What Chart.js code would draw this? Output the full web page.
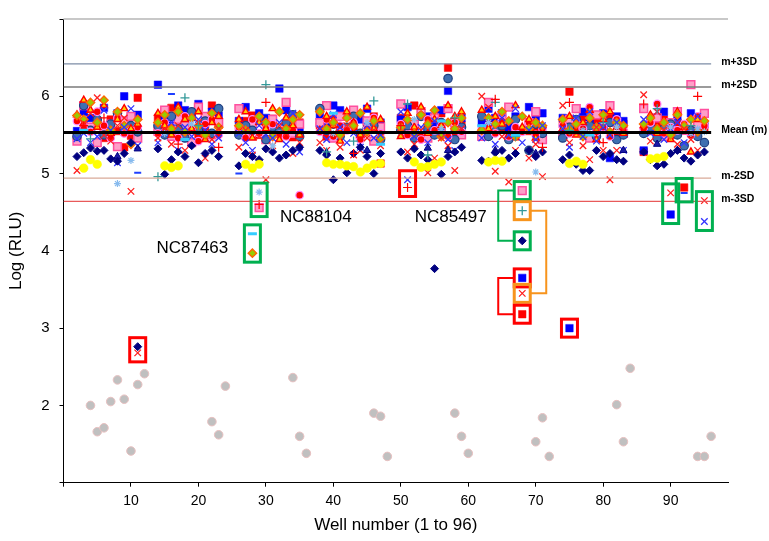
<!DOCTYPE html>
<html><head><meta charset="utf-8">
<script src="https://cdn.jsdelivr.net/npm/chart.js@4/dist/chart.umd.min.js"></script>
<style>html,body{margin:0;padding:0;background:#fff}#wrap{width:769px;height:541px}</style>
</head><body><div id="wrap"><canvas id="c" width="769" height="541"></canvas></div>
<script>
// ---------- DATA ----------
const wells = [2,3,4,5,6,7,8,9,10,11, 14,15,16,17,18,19,20,21,22,23, 26,27,28,29,30,31,32,33,34,35, 38,39,40,41,42,43,44,45,46,47,
               50,51,52,53,54,55,56,57,58,59, 62,63,64,65,66,67,68,69,70,71, 74,75,76,77,78,79,80,81,82,83, 86,87,88,89,90,91,92,93,94,95];
const _ = null;
const redSq = [5.48,5.62,5.57,5.66,5.46,5.70,5.55,5.34,5.49,5.98, 5.72,5.60,5.85,5.52,5.66,5.79,5.50,5.58,5.88,5.63,
  5.58,5.68,5.75,5.50,5.62,5.71,5.55,5.60,5.47,5.66, 5.62,5.48,5.70,5.55,5.77,5.60,5.52,5.66,5.74,5.13,
  5.72,5.55,5.88,5.49,5.60,5.66,5.78,6.37,5.52,5.63, 5.52,5.66,5.70,5.58,5.62,5.48,3.18,5.55,5.60,5.45,
  5.64,6.06,5.55,5.70,5.48,5.66,5.58,5.72,5.50,5.64, 5.28,5.55,5.62,5.70,5.50,5.66,4.82,5.58,5.62,5.60];
const blueSq = [5.55,5.80,5.72,5.68,5.85,5.60,5.78,6.00,5.74,5.76, 6.15,5.70,5.62,5.88,5.82,5.73,5.90,5.66,5.80,5.75,
  5.68,5.86,5.60,5.78,5.72,5.64,6.10,5.82,5.70,5.58, 5.74,5.66,5.88,5.82,5.58,5.76,5.70,5.84,5.62,5.66,
  5.70,5.86,5.62,5.78,5.74,5.66,5.82,6.07,5.60,5.72, 5.66,5.84,5.72,5.78,5.60,5.74,3.65,5.86,5.70,5.78,
  5.72,3.00,5.66,5.80,5.70,5.60,5.78,5.20,5.74,5.68, 5.30,5.66,5.72,5.80,4.47,5.74,5.62,5.78,5.70,5.64];
const pinkSq = [5.42,5.88,5.60,5.40,5.52,5.64,5.35,5.68,5.74,5.46, 5.55,5.82,5.48,5.70,5.62,5.40,5.86,5.74,5.50,5.66,
  5.84,5.50,5.62,4.56,5.44,5.70,5.58,5.92,5.52,5.64, 5.66,5.88,5.46,5.74,5.58,5.82,5.50,5.68,5.42,5.60,
  5.90,5.52,5.64,5.80,5.46,5.72,5.58,5.84,5.66,5.50, 5.48,5.92,5.60,5.72,5.86,5.54,4.78,5.66,5.80,5.44,
  5.50,5.70,5.84,5.62,5.46,5.76,5.58,5.88,5.66,5.52, 5.84,5.60,5.72,5.48,5.66,5.80,5.56,6.15,5.64,5.78];
const redX = [5.04,5.65,5.78,5.98,5.50,5.42,5.62,5.72,4.77,2.68, 5.46,5.58,5.38,5.62,5.30,5.54,5.66,5.20,5.44,5.58,
  5.34,5.56,5.24,5.48,4.92,5.36,5.62,5.52,5.26,5.40, 5.40,5.30,5.52,5.34,5.62,5.24,5.30,5.46,5.56,5.36,
  5.52,5.28,5.38,5.56,5.01,5.20,5.46,5.36,5.04,5.58, 6.00,5.86,5.03,5.48,4.89,5.30,3.45,5.20,5.38,4.96,
  5.88,5.40,5.52,5.36,5.18,5.60,5.30,4.92,5.30,5.56, 6.02,5.42,5.80,5.56,4.75,5.38,5.58,5.44,5.30,4.65];
const blueX = [5.45,5.52,5.40,5.48,5.82,5.56,5.14,5.60,5.84,5.36, 5.40,5.52,5.66,5.30,5.60,5.48,5.70,5.56,5.38,5.46,
  5.52,5.40,5.30,5.62,5.50,5.46,5.66,5.38,5.78,5.28, 5.58,5.44,5.76,5.60,5.40,5.52,5.34,5.62,5.46,5.50,
  5.80,4.92,5.48,5.60,5.40,5.68,5.54,5.44,5.30,5.58, 5.46,5.66,5.38,5.72,5.50,5.84,5.40,5.56,5.44,5.62,
  5.58,5.34,5.72,5.48,5.80,5.42,5.60,5.50,5.66,5.30, 5.70,5.52,5.80,5.44,5.58,5.66,5.40,5.52,5.74,4.38];
const navyDia = [5.22,5.27,5.33,5.29,5.30,5.19,5.16,5.26,5.40,2.76, 5.32,4.99,5.18,5.28,5.22,5.36,5.14,5.26,5.30,5.22,
  5.10,5.26,5.22,5.18,5.32,5.28,5.20,5.24,5.30,5.34, 5.30,5.24,4.92,5.20,5.01,5.26,5.34,5.22,5.00,5.26,
  5.28,5.20,5.32,5.24,5.18,3.77,4.99,5.22,5.28,5.34, 5.17,5.16,5.27,5.30,5.20,5.26,4.13,5.30,5.22,5.28,
  5.18,5.24,5.12,5.04,5.04,5.30,5.22,5.26,5.18,5.16, 5.28,5.18,5.10,5.12,5.26,5.30,5.20,5.16,5.24,5.28];
const yellowC = [_,5.07,5.18,5.12,_,_,_,_,_,_, _,5.10,5.08,5.10,_,_,_,_,_,_,
  _,5.12,5.07,5.12,_,_,_,_,_,_, _,5.14,5.12,5.12,5.10,5.09,5.02,5.07,5.12,5.13,
  _,_,5.15,5.08,5.09,5.12,5.15,_,_,_, _,5.15,5.17,5.16,_,_,_,_,_,_,
  _,5.13,5.16,5.12,_,_,_,_,_,_, _,5.19,5.20,5.22,_,_,_,_,_,_];
const redTri = [5.76,5.95,5.82,5.60,5.88,5.52,5.70,5.84,5.58,5.64, 5.78,5.62,5.50,5.86,5.70,5.58,5.80,5.44,5.66,5.74,
  5.70,5.80,5.46,5.66,5.58,5.84,5.44,5.72,5.62,5.50, 5.56,5.74,5.62,5.42,5.80,5.66,5.50,5.86,5.58,5.70,
  5.48,5.78,5.60,5.86,5.52,5.70,5.62,5.88,5.74,5.80, 5.82,5.58,5.74,5.64,5.50,5.88,5.60,5.70,5.46,5.62,
  5.58,5.74,5.50,5.66,5.82,5.44,5.70,5.80,5.60,5.52, 5.62,5.76,5.52,5.68,5.44,5.80,5.60,5.28,5.70,5.56];
const greenDia = [5.75,5.70,5.92,5.66,5.95,5.56,5.80,5.62,5.38,5.70, 5.66,5.76,5.58,5.80,5.54,5.72,5.62,5.50,5.78,5.60,
  5.62,5.56,3.97,5.74,5.66,5.48,5.80,5.58,5.70,5.76, 5.80,5.58,5.66,5.50,5.72,5.62,5.78,5.54,5.68,5.46,
  5.60,5.70,5.52,5.76,5.64,5.82,5.48,5.66,5.58,5.72, 5.56,5.72,5.64,5.80,5.68,5.48,5.74,5.58,5.66,5.62,
  5.70,5.56,5.64,5.48,5.72,5.60,5.76,5.54,5.66,5.62, 5.64,5.72,5.58,5.66,5.50,5.76,5.62,5.70,5.54,5.68];
const steelC = [5.48,5.88,5.56,5.70,5.50,5.64,5.78,5.58,5.62,5.54, 5.62,5.50,5.74,5.58,5.46,5.80,5.56,5.68,5.52,5.84,
  5.50,5.62,5.56,5.72,5.44,5.60,5.54,5.66,5.76,5.48, 5.84,5.56,5.64,5.48,5.60,5.74,5.52,5.58,5.62,5.44,
  5.56,5.62,5.46,5.74,5.58,5.50,5.66,6.23,5.44,5.60, 5.74,5.48,5.58,5.62,5.44,5.70,5.56,5.30,5.64,5.52,
  5.46,5.60,5.70,5.54,5.62,5.48,5.58,5.66,5.44,5.50, 5.52,5.60,5.46,5.58,5.64,5.50,5.36,5.56,5.48,5.40];
const redC = [5.68,5.58,5.54,5.80,5.62,5.46,5.72,5.52,5.56,5.60, 5.52,5.66,5.60,5.46,5.74,5.56,5.42,5.64,5.70,5.50,
  5.60,5.46,5.70,5.52,5.58,5.64,5.50,5.48,5.56,4.72, 5.54,5.70,5.48,5.62,5.56,5.66,5.44,5.58,5.72,5.52,
  5.64,5.50,5.58,5.44,5.70,5.56,5.62,5.48,5.66,5.54, 5.58,5.62,5.52,5.68,5.48,5.60,5.54,5.66,5.50,5.58,
  5.62,5.52,5.66,5.58,5.86,5.54,5.60,5.48,5.70,5.56, 5.58,5.66,5.90,5.52,5.60,5.56,5.64,5.50,5.74,5.62];
const tealPlus = [_,_,5.45,_,_,_,_,_,_,_, 4.96,_,_,_,5.98,_,5.62,_,_,_,
  _,_,_,_,6.15,_,_,_,_,_, _,5.28,_,_,_,5.42,_,_,5.94,_,
  _,5.90,_,_,5.24,_,_,_,5.72,_, _,_,5.92,_,_,5.48,4.52,_,_,_,
  _,5.56,_,_,_,_,5.66,_,_,_, _,_,5.84,_,_,_,_,5.62,_,_];
const redPlus = [_,5.62,_,_,5.72,_,_,_,_,_, _,_,_,5.38,_,_,_,_,_,5.34,
  _,_,_,4.60,5.92,_,_,_,_,_, _,_,_,_,_,5.26,_,_,_,_,
  5.62,4.82,_,_,_,_,_,_,_,_, _,_,5.96,_,_,_,_,_,_,5.34,
  _,5.92,_,_,_,_,5.40,_,_,_, 5.90,_,_,_,_,_,_,_,6.00,_];
const lightStar = [_,_,_,_,_,_,4.87,_,5.17,_, _,5.52,_,_,_,5.64,_,_,_,_,
  _,_,_,4.76,_,5.36,_,_,_,_, _,_,5.52,_,_,_,_,5.66,_,_,
  _,_,5.70,_,_,_,5.58,_,_,_, _,5.66,_,_,_,_,_,_,5.02,_,
  _,_,_,5.56,_,_,_,_,5.60,_, _,_,_,_,5.60,_,_,5.52,5.58,5.54];
const cyanDash = [_,5.56,_,_,_,_,_,_,_,_, _,_,_,_,5.44,_,_,_,_,_,
  _,_,4.22,_,_,_,_,_,_,_, _,_,5.78,_,_,_,_,_,_,5.38,
  _,_,_,_,_,_,5.68,_,_,_, 5.62,_,_,_,_,5.50,_,_,_,_,
  _,_,_,_,5.50,_,_,_,_,_, _,_,_,_,_,_,_,_,_,_];
const blueDash = [_,_,_,_,_,_,_,_,_,5.01, _,_,6.03,_,_,_,_,_,_,_,
  5.00,_,_,_,_,_,_,_,_,_, _,_,_,_,_,_,_,_,_,_,
  _,_,_,_,_,_,_,_,_,_, _,_,_,_,_,_,_,_,_,_,
  _,_,_,_,_,_,_,_,_,_, _,_,_,_,_,_,4.75,_,_,_];
const navyTri = [_,_,_,_,_,_,5.22,_,_,5.32, _,_,_,_,_,_,_,_,_,_,
  _,_,_,_,_,_,_,_,_,_, _,5.27,_,_,_,_,_,5.30,_,_,
  _,_,_,_,5.33,_,_,5.30,_,_, _,_,5.30,_,_,_,_,_,5.26,_,
  _,_,_,_,_,_,_,_,_,5.30, _,_,5.38,_,_,5.30,_,_,_,_];
// blank / control wells (grey circles)
const greyWells = [4,5,6,7,8,9,10,11,12, 22,23,24, 34,35,36, 46,47,48, 58,59,60, 70,71,72, 82,83,84, 94,95,96];
const greyVals  = [2.00,1.66,1.71,2.05,2.33,2.08,1.41,2.27,2.41, 1.79,1.62,2.25, 2.36,1.60,1.38, 1.90,1.86,1.34,
                   1.90,1.60,1.38, 1.53,1.84,1.34, 2.01,1.53,2.48, 1.34,1.34,1.60];
// reference lines
const refNames = ['m+3SD','m+2SD','Mean (m)','m-2SD','m-3SD'];
const refVals  = [6.42, 6.12, 5.53, 4.94, 4.64];
const xTicks = [10,20,30,40,50,60,70,80,90];
const yTicks = [2,3,4,5,6];
// highlighted outliers: well, low value, high value, colour
const boxWell = [11, 28, 29, 51, 68, 68, 68, 68, 68, 68, 75, 90, 92, 95];
const boxLo   = [2.68, 3.97, 4.56, 4.82, 4.78, 4.52, 4.13, 3.65, 3.45, 3.18, 3.00, 4.47, 4.75, 4.38];
const boxHi   = [2.76, 4.22, 4.76, 4.92, 4.78, 4.52, 4.13, 3.65, 3.45, 3.18, 3.00, 4.75, 4.82, 4.65];
const boxCol  = ['red','green','green','red','green','orange','green','red','orange','red','red','green','green','green'];
// brackets linking boxes (indexes into box arrays)
const bracketA = [4, 7, 5];
const bracketB = [6, 9, 8];
const bracketSide = ['left','left','right'];
const bracketCol = ['green','red','orange'];
const noteText = ['NC87463','NC88104','NC85497'];
const noteWell = [19.1, 37.4, 57.4];
const noteVal  = [4.03, 4.44, 4.44];

// ---------- BUILD ----------
const COL = {red:'#ff0000', green:'#00b050', orange:'#f7941d'};
const pts = arr => wells.map((w,i)=> arr[i]==null ? null : {x:w, y:arr[i]}).filter(Boolean);
function sc(label, arr, style, r, bg, bd, bw){
  return {type:'scatter', label, data: pts(arr), showLine:false, order: 2,
    pointStyle: style, pointRadius: r, pointBackgroundColor: bg, pointBorderColor: bd, pointBorderWidth: bw,
    backgroundColor: bg, borderColor: bd};
}
const datasets = [
  sc('blueDash', blueDash, 'line', 3.5, '#1f3fff', '#1f3fff', 2),
  sc('cyanDash', cyanDash, 'line', 4.5, '#33ccff', '#33ccff', 3),
  sc('lightStar', lightStar, 'star', 3.5, '#99ccff', '#88bbee', 1.2),
  sc('redPlus', redPlus, 'cross', 4.5, '#ff0000', '#ff0000', 1.2),
  sc('tealPlus', tealPlus, 'cross', 4.5, '#339999', '#339999', 1.3),
  sc('yellow', yellowC, 'circle', 4.3, '#ffff00', '#ffff00', 0.5),
  sc('navyDia', navyDia, 'rectRot', 4, '#000080', '#000080', 1),
  sc('navyTri', navyTri, 'triangle', 4.2, '#1a1aa6', '#000080', 1),
  sc('redX', redX, 'crossRot', 4.6, '#ff0000', '#ff2020', 1.3),
  sc('blueX', blueX, 'crossRot', 4.6, '#3333ff', '#3333ff', 1.3),
  sc('greenDia', greenDia, 'rectRot', 4.2, '#99cc00', '#ff6600', 1.4),
  sc('redTri', redTri, 'triangle', 4, '#ffcc00', '#ff0000', 1.4),
  sc('redC', redC, 'circle', 3.8, '#ff0000', '#ff88ff', 1.2),
  sc('steelC', steelC, 'circle', 4.2, '#3f6fb0', '#1f3f80', 1.2),
  sc('pinkSq', pinkSq, 'rect', 5.5, '#ff9fc8', '#ff4f9f', 1.5),
  sc('blueSq', blueSq, 'rect', 5.3, '#0000ff', '#0000ff', 0.5),
  sc('redSq', redSq, 'rect', 5.3, '#ff0000', '#ff0000', 0.5),
  {type:'scatter', label:'blank', data: greyWells.map((w,i)=>({x:w,y:greyVals[i]})), showLine:false, order:2,
    pointStyle:'circle', pointRadius:4.3, pointBackgroundColor:'#c0c0c0', pointBorderColor:'#e8c0c0', pointBorderWidth:1}
];
const refCol = ['#7d8ca6','#7a7a7a','#000000','#d9aa98','#e85a5a'];
const refW = [1.2,1.6,3,1.2,1.2];
refVals.forEach((v,i)=>datasets.push({type:'line', label: refNames[i], data:[{x:0,y:v},{x:96,y:v}],
  borderColor: refCol[i], borderWidth: refW[i], pointRadius:0, order:0, fill:false}));

const FONT = "'Liberation Sans', Arial, sans-serif";
const deco = {
  id:'deco',
  afterDatasetsDraw(chart){
    const {ctx, chartArea:ca, scales:{x, y}} = chart;
    ctx.save();
    // top border
    ctx.strokeStyle = '#c8c8c8'; ctx.lineWidth = 2;
    ctx.beginPath(); ctx.moveTo(ca.left, ca.top); ctx.lineTo(ca.right, ca.top); ctx.stroke();
    // reference labels
    ctx.fillStyle = '#000'; ctx.font = "bold 10.5px " + FONT; ctx.textBaseline = 'middle'; ctx.textAlign = 'left';
    refVals.forEach((v,i)=> ctx.fillText(refNames[i], x.getPixelForValue(96)+10, y.getPixelForValue(v)-2));
    // boxes
    const rects = boxWell.map((w,i)=>{
      const cx = x.getPixelForValue(w);
      const t = y.getPixelForValue(boxHi[i]) - 9, b = y.getPixelForValue(boxLo[i]) + 9;
      return {l: cx-8, r: cx+8, t, b, m:(t+b)/2};
    });
    ctx.lineWidth = 3;
    rects.forEach((r,i)=>{ ctx.strokeStyle = COL[boxCol[i]]; ctx.strokeRect(r.l, r.t, r.r-r.l, r.b-r.t); });
    ctx.lineWidth = 2;
    bracketA.forEach((a,i)=>{
      const A = rects[a], B = rects[bracketB[i]];
      ctx.strokeStyle = COL[bracketCol[i]];
      ctx.beginPath();
      if (bracketSide[i]==='left'){ const vx = A.l-16; ctx.moveTo(A.l, A.m); ctx.lineTo(vx, A.m); ctx.lineTo(vx, B.m); ctx.lineTo(B.l, B.m); }
      else { const vx = A.r+16; ctx.moveTo(A.r, A.m); ctx.lineTo(vx, A.m); ctx.lineTo(vx, B.m); ctx.lineTo(B.r, B.m); }
      ctx.stroke();
    });
    // notes
    ctx.font = "17px " + FONT; ctx.textAlign = 'center'; ctx.fillStyle = '#000';
    noteText.forEach((t,i)=> ctx.fillText(t, x.getPixelForValue(noteWell[i]), y.getPixelForValue(noteVal[i])));
    ctx.restore();
  }
};

new Chart(document.getElementById('c'), {
  type:'scatter',
  data:{datasets},
  options:{
    responsive:false, animation:false, events:[],
    layout:{padding:{left:0, right:41, top:12, bottom:0}},
    plugins:{legend:{display:false}, tooltip:{enabled:false}},
    scales:{
      x:{type:'linear', min:0, max:98.5,
        afterFit(s){ s.height = 58.3; },
        border:{display:true, color:'#000', width:1},
        grid:{display:true, drawOnChartArea:false, drawTicks:true, tickLength:4, color:'#000'},
        ticks:{stepSize:10, includeBounds:false, autoSkip:false, maxRotation:0, padding:6, color:'#000',
          font:{family:FONT, size:14}, callback:v => xTicks.includes(v) ? String(v) : ''},
        title:{display:true, text:'Well number (1 to 96)', color:'#000', font:{family:FONT, size:17}, padding:{top:0,bottom:5}}
      },
      y:{type:'linear', min:1, max:7,
        afterFit(s){ s.width = 63.5; },
        border:{display:true, color:'#000', width:1},
        grid:{display:true, drawOnChartArea:false, drawTicks:true, tickLength:4, color:'#000'},
        ticks:{stepSize:1, autoSkip:false, padding:10, color:'#000', font:{family:FONT, size:15},
          callback:v => yTicks.includes(v) ? String(v) : ''},
        title:{display:true, text:'Log (RLU)', color:'#000', font:{family:FONT, size:17}, padding:{top:6,bottom:0}}
      }
    }
  },
  plugins:[deco]
});
</script></body></html>
